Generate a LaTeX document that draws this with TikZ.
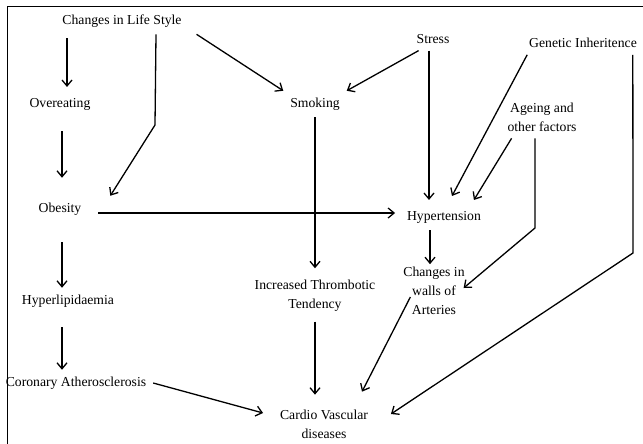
\documentclass[tikz,border=0pt]{standalone}
\usepackage{fontspec}
\setmainfont{Liberation Serif}
\usetikzlibrary{arrows.meta}

\tikzset{
  lbl/.style={font=\fontsize{13.7}{19}\selectfont, inner sep=1pt, outer sep=6pt, align=center},
  arr/.style={line width=1.3pt, -{Straight Barb[length=6pt,width=10pt]}}
}

\begin{document}
\begin{tikzpicture}[x=1pt, y=-1pt]
\useasboundingbox (0,0) rectangle (643,444);

% Frame
\draw[line width=0.9pt] (7,444) -- (7,6) -- (643,6);

% Nodes
\node[lbl] (life) at (122,21) {Changes in Life Style};
\node[lbl] (over) at (60,104) {Overeating};
\node[lbl] (obes) at (60,209) {Obesity};
\node[lbl] (hlip) at (68,301) {Hyperlipidaemia};
\node[lbl] (coron) at (76,383) {Coronary Atherosclerosis};
\node[lbl] (smok) at (315,104) {Smoking};
\node[lbl] (stress) at (433,39) {Stress};
\node[lbl] (gen) at (583,43) {Genetic Inheritence};
\node[lbl] (age) at (542,117) {Ageing and\\other factors};
\node[lbl] (hyt) at (444,217) {Hypertension};
\node[lbl] (walls) at (434,291) {Changes in\\walls of\\Arteries};
\node[lbl] (thromb) at (315,296) {Increased Thrombotic\\Tendency};
\node[lbl] (cvd) at (324,424) {Cardio Vascular\\diseases};

% Bends
\coordinate (kink1) at (155,125);
\coordinate (kink2) at (535,228);
\coordinate (kink3) at (633,253);

% Arrows
\draw[arr, shorten <=4pt, shorten >=4pt] ([xshift=-55pt]life.south) -- ([xshift=7pt]over.north);
\draw[arr, shorten <=14pt, shorten >=18pt] ([xshift=2pt]over.south) -- ([xshift=2pt]obes.north);
\draw[arr, shorten <=20pt] ([xshift=2pt]obes.south) -- ([xshift=-6pt]hlip.north);
\draw[arr, shorten <=13pt] ([xshift=-6pt]hlip.south) -- ([xshift=-14pt]coron.north);
\draw[arr] (coron.east) -- ([xshift=-10pt,yshift=11pt]cvd.west);

\draw[arr] ([xshift=8pt]life.south east) -- (smok.north west);
\draw[arr] ([xshift=34pt]life.south) -- (kink1) -- ([xshift=22pt]obes.north east);
\draw[arr, shorten <=10pt, shorten >=5pt] ([yshift=-4pt]obes.east) -- ([yshift=4pt]hyt.west);

\draw[arr] ([xshift=9pt]stress.south west) -- (smok.north east);
\draw[arr] ([xshift=-4pt]stress.south) -- ([xshift=-15pt,yshift=4pt]hyt.north);
\draw[arr, shorten >=5pt] (smok.south) -- (thromb.north);
\draw[arr, shorten <=3pt] (thromb.south) -- ([xshift=-9pt,yshift=8pt]cvd.north);

\draw[arr] ([xshift=5pt]gen.south west) -- ([xshift=8pt,yshift=8pt]hyt.north);
\draw[arr] ([xshift=11pt]age.south west) -- ([xshift=-14pt,yshift=4pt]hyt.north east);
\draw[arr] ([xshift=-7pt]age.south) -- (kink2) -- ([xshift=-8pt,yshift=3pt]walls.east);
\draw[arr] ([xshift=-14pt]hyt.south) -- ([xshift=-4pt,yshift=-4pt]walls.north);
\draw[arr] ([xshift=14pt,yshift=-6pt]walls.west) -- ([xshift=38pt,yshift=11pt]cvd.north);
\draw[arr] ([xshift=-11pt]gen.south east) -- (kink3) -- ([xshift=16pt,yshift=10pt]cvd.east);
\end{tikzpicture}
\end{document}
